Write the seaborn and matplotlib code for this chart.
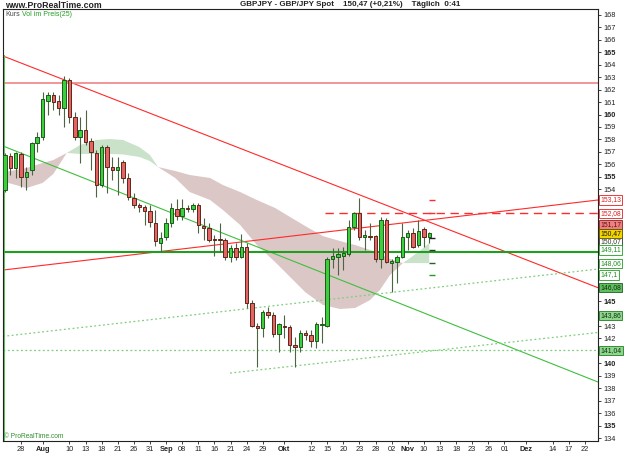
import matplotlib
matplotlib.use("Agg")
import matplotlib.pyplot as plt
import matplotlib.transforms as mtransforms
import numpy as np
import pandas as pd
import seaborn as sns

# GBP/JPY daily candles (index 0 = first candle on the left)
opens = [153.93, 156.69, 155.68, 156.80, 154.95, 155.54, 157.73, 158.22, 161.11, 161.57,
         161.09, 160.50, 162.77, 159.78, 158.17, 158.76, 157.87, 156.93, 154.33, 157.37,
         155.81, 155.54, 156.21, 154.87, 153.27, 152.73, 152.54, 152.27, 151.30, 149.67,
         150.13, 151.30, 152.38, 151.84, 152.46, 152.38, 152.73, 151.04, 150.90, 149.99,
         149.99, 149.89, 148.57, 149.25, 148.57, 149.37, 144.87, 143.02, 142.82, 144.10,
         143.88, 142.33, 143.02, 142.94, 141.47, 141.34, 142.46, 142.28, 141.82, 143.08,
         143.02, 148.36, 148.57, 148.63, 148.79, 150.98, 152.06, 150.13, 150.27, 150.26,
         148.36, 151.52, 148.04, 148.17, 148.52, 150.13, 150.45, 149.51, 150.77, 150.13]
highs = [156.91, 156.91, 157.01, 156.99, 155.81, 157.82, 158.62, 161.83, 161.83, 161.83,
         161.57, 163.10, 162.91, 160.23, 159.82, 160.36, 158.09, 157.15, 157.55, 157.55,
         156.61, 156.61, 156.34, 155.28, 153.67, 152.89, 152.73, 152.73, 152.32, 150.56,
         151.68, 152.89, 153.21, 153.21, 152.73, 152.89, 152.89, 151.68, 151.28, 150.32,
         151.28, 150.07, 149.51, 149.67, 150.40, 149.67, 145.09, 143.24, 144.29, 144.55,
         144.15, 143.24, 143.88, 143.08, 142.14, 142.68, 142.68, 142.68, 143.35, 143.75,
         148.52, 149.27, 149.27, 149.37, 151.52, 152.19, 153.27, 150.72, 151.28, 150.32,
         151.79, 151.68, 148.39, 148.71, 151.30, 150.72, 150.85, 151.52, 150.98, 150.58]
lows = [153.77, 155.14, 154.90, 154.17, 153.93, 155.14, 157.01, 157.95, 159.96, 160.36,
        159.96, 159.02, 159.34, 157.95, 156.08, 157.55, 155.54, 153.39, 154.20, 153.67,
        154.74, 153.53, 154.47, 153.13, 152.46, 152.16, 151.12, 150.98, 149.43, 148.95,
        149.91, 150.96, 151.52, 151.52, 152.16, 152.16, 150.48, 149.91, 149.75, 148.63,
        148.95, 148.31, 148.14, 148.31, 148.47, 144.45, 142.92, 139.73, 142.12, 143.64,
        142.14, 140.91, 142.04, 140.93, 139.73, 140.93, 141.87, 141.34, 141.21, 141.63,
        142.94, 147.66, 147.10, 147.50, 148.63, 150.72, 149.91, 149.11, 149.91, 148.17,
        147.66, 148.06, 145.76, 146.46, 148.44, 149.11, 149.25, 149.37, 149.37, 149.65]
closes = [156.75, 155.68, 156.88, 154.95, 155.40, 157.69, 158.22, 161.22, 161.57, 161.03,
          160.50, 162.77, 159.78, 158.17, 158.76, 157.82, 157.01, 154.33, 157.37, 155.81,
          155.54, 155.81, 154.87, 153.35, 152.73, 152.54, 152.27, 151.38, 149.83, 150.07,
          151.30, 152.46, 151.84, 152.46, 152.38, 152.73, 151.12, 150.90, 149.91, 149.89,
          149.89, 148.57, 149.25, 148.57, 149.37, 144.87, 143.00, 142.82, 144.10, 143.88,
          142.33, 143.16, 142.94, 141.47, 141.34, 142.46, 142.28, 141.82, 143.16, 143.16,
          148.36, 148.63, 148.79, 148.84, 150.98, 152.06, 150.13, 150.34, 150.19, 148.36,
          151.52, 148.17, 148.23, 148.52, 150.13, 150.45, 149.37, 150.66, 150.13, 150.47]

# "Vol im Preis" cloud, two spans sampled at candle positions
cloud_x = [0, 4, 7, 9, 11.5, 14, 17, 19.6, 22, 25, 27, 28.5, 31.7, 34.4, 38.2, 40.6, 43.8,
           46.9, 50.3, 53.1, 55.9, 59.2, 62.4, 65.2, 68, 69.8, 71.7, 74.1, 77, 79]
cloud_a = [154.58, 154.09, 154.50, 155.22, 156.91, 157.55, 157.95, 158.03, 157.95, 157.39,
           156.75, 155.78, 154.90, 153.77, 153.13, 152.32, 151.12, 149.51, 148.14, 146.94,
           145.73, 144.69, 144.37, 144.45, 145.09, 145.89, 147.10, 148.06, 148.95, 149.67]
cloud_b = [155.38, 155.70, 156.10, 156.34, 156.91, 156.83, 156.83, 156.83, 156.79, 156.59,
           156.26, 155.78, 155.46, 155.14, 154.90, 154.33, 153.77, 153.13, 152.49, 151.76,
           151.04, 150.23, 149.83, 149.51, 149.11, 148.79, 148.39, 148.06, 148.06, 148.06]

# trend lines: (start index, start price, end index, end price)
red_falling = (0, 164.64, 110.43, 146.08)
red_rising = (-0.37, 147.50, 110.43, 153.13)
green_falling = (-0.37, 157.47, 110.43, 138.50)
green_dot_upper = (-0.37, 142.17, 110.43, 147.58)
green_dot_lower = (41.9, 139.22, 110.43, 142.48)
red_level = 162.51
green_level = 148.95
green_dot_level = 141.04
red_dash_level = 152.08
pivot_marks = [153.13, 152.08, 150.07, 149.11, 148.06, 147.10]

# price boxes on the right axis
box_values = [153.13, 152.08, 151.17, 149.76, 150.47, 149.11, 148.06, 147.10, 146.08, 143.86, 141.04]
box_texts = ["153,13", "152,08", "151,17", "150,07", "150,47", "149,11", "148,06", "147,1",
             "146,08", "143,86", "141,04"]

ytick_vals = [168, 167, 166, 165, 164, 163, 162, 161, 160, 159, 158, 157, 156, 155, 154,
              145, 143, 142, 140, 139, 138, 137, 136, 135, 134]

date_pos = [3, 7, 12, 15, 18, 21, 24, 27, 30, 33, 36, 39, 42, 45, 48, 52, 57, 60, 63, 66,
            69, 72, 75, 78, 81, 84, 87, 90, 93, 97, 102, 105, 108]
date_labels = ["28", "Aug", "10", "13", "18", "21", "26", "31", "Sep", "08", "11", "16", "21",
               "24", "29", "Okt", "12", "15", "20", "23", "28", "02", "Nov", "10", "13", "18",
               "23", "26", "01", "Dez", "14", "17", "22"]
months = ["Aug", "Sep", "Okt", "Nov", "Dez"]

sns.set_style("white")
plt.rcParams["font.family"] = ["Liberation Sans", "DejaVu Sans"]

W, H = 625, 469
fig = plt.figure(figsize=(W / 100, H / 100), dpi=100)
ax = fig.add_axes([3 / W, 1 - 441 / H, 595 / W, 432 / H])
ax.set_xlim(-0.37, 110.43)
ax.set_ylim(133.76, 168.48)

# cloud
cx = np.array(cloud_x)
ca = np.array(cloud_a)
cb = np.array(cloud_b)
ax.fill_between(cx, ca, cb, where=ca >= cb, interpolate=True, color="#c9e2c9", lw=0, zorder=1)
ax.fill_between(cx, ca, cb, where=ca < cb, interpolate=True, color="#dcc7c7", lw=0, zorder=1)

# trend lines
def trend(line, color, lw=0.8, ls="-"):
    df = pd.DataFrame({"x": [line[0], line[2]], "y": [line[1], line[3]]})
    sns.lineplot(data=df, x="x", y="y", ax=ax, color=color, lw=lw, linestyle=ls, zorder=2)

trend(red_falling, "#ff2a2a")
trend(red_rising, "#ff2a2a")
trend(green_falling, "#3fbf3f")
trend(green_dot_upper, "#7dcf7d", lw=0.9, ls=(0, (1.5, 2)))
trend(green_dot_lower, "#7dcf7d", lw=0.9, ls=(0, (1.5, 2)))

ax.axhline(red_level, color="#f08484", lw=1.2, zorder=2)
ax.axhline(green_level, color="#1f9f1f", lw=1.5, zorder=2)
ax.axhline(green_dot_level, color="#7dcf7d", lw=0.9, ls=(0, (1.5, 2)), zorder=2)
ax.hlines(red_dash_level, 59.6, 110.43, color="#ff2a2a", lw=1.0, linestyles=(0, (6, 4)), zorder=2)
ax.vlines(-0.2, 133.76, 164.78, color="#3fbf3f", lw=1.2, zorder=2)

mark_cols = ["#ff2a2a", "#ff2a2a", "#222222", "#333333", "#2f5f2f", "#1f9f1f"]
for v, col in zip(pivot_marks, mark_cols):
    ax.hlines(v, 79.0, 80.1, color=col, lw=1.0, zorder=5)

# candles
xs = np.arange(len(opens))
o = np.array(opens)
c = np.array(closes)
hi = np.array(highs)
lo = np.array(lows)
up = c >= o
ax.vlines(xs, lo, hi, color="#4b6442", lw=0.8, zorder=3)
bottom = np.minimum(o, c)
height = np.maximum(np.abs(c - o), 0.04)
ax.bar(xs, height, bottom=bottom, width=0.64,
       color=np.where(up, "#3ccf3c", "#e46464"),
       edgecolor=np.where(up, "#1c5a1c", "#5e2618"), lw=0.7, zorder=4)

# axes frame
for s in ax.spines.values():
    s.set_color("#222222")
    s.set_linewidth(0.8)

ax.yaxis.tick_right()
ax.set_yticks(ytick_vals)
ax.set_yticklabels([str(v) for v in ytick_vals])
for lab, v in zip(ax.get_yticklabels(), ytick_vals):
    if v % 5 == 0:
        lab.set_fontweight("bold")
ax.tick_params(axis="y", right=True, left=False, direction="out", length=2.5, width=0.6,
               pad=1.2, labelsize=5.3, colors="#222222")

ax.set_xticks(date_pos)
ax.set_xticklabels(date_labels)
for lab in ax.get_xticklabels():
    if lab.get_text() in months:
        lab.set_fontweight("bold")
ax.tick_params(axis="x", bottom=True, direction="out", length=2, width=0.6, pad=1.5,
               labelsize=5.3, colors="#222222")
ax.set_xlabel("")
ax.set_ylabel("")
ax.grid(False)

# price boxes
trans = mtransforms.blended_transform_factory(ax.transAxes, ax.transData)
box_styles = {
    "153,13": ("white", "#e02020", "#e02020"),
    "152,08": ("white", "#e02020", "#e02020"),
    "151,17": ("#f08080", "#8a2020", "#5a1010"),
    "150,07": ("white", "#333333", "#333333"),
    "150,47": ("#f3d500", "#555500", "#111111"),
    "149,11": ("white", "#1f9f1f", "#1f8f1f"),
    "148,06": ("white", "#1f9f1f", "#1f8f1f"),
    "147,1": ("white", "#1f9f1f", "#1f8f1f"),
    "146,08": ("#5fbf5f", "#1f5f1f", "#103010"),
    "143,86": ("#8fd68f", "#1f7f1f", "#103010"),
    "141,04": ("#8fd68f", "#1f7f1f", "#103010"),
}
for z, (v, t) in enumerate(zip(box_values, box_texts)):
    fc, ec, tc = box_styles[t]
    ax.text(1.004, v, t, transform=trans, fontsize=4.9, color=tc, ha="left", va="center",
            clip_on=False, zorder=10 + z,
            bbox=dict(boxstyle="square,pad=0.15", fc=fc, ec=ec, lw=0.6))

# header texts
fig.text(5 / W, 1 - 5 / H, "www.ProRealTime.com", fontsize=6.3, fontweight="bold",
         color="#222222", ha="left", va="center")
fig.text(350 / W, 1 - 5 / H, "GBPJPY - GBP/JPY Spot    150,47 (+0,21%)    Täglich  0:41",
         fontsize=5.8, fontweight="bold", color="#222222", ha="center", va="center")
fig.text(5 / W, 1 - 14 / H, "Kurs", fontsize=5, color="#444444", ha="left", va="center")
fig.text(22 / W, 1 - 14 / H, "Vol im Preis(25)", fontsize=5, color="#1f9f1f", ha="left", va="center")
fig.text(4 / W, 1 - 437 / H, "© ProRealTime.com", fontsize=4.8, color="#2f8f2f", ha="left", va="center")

fig.savefig("out.png", dpi=100)
